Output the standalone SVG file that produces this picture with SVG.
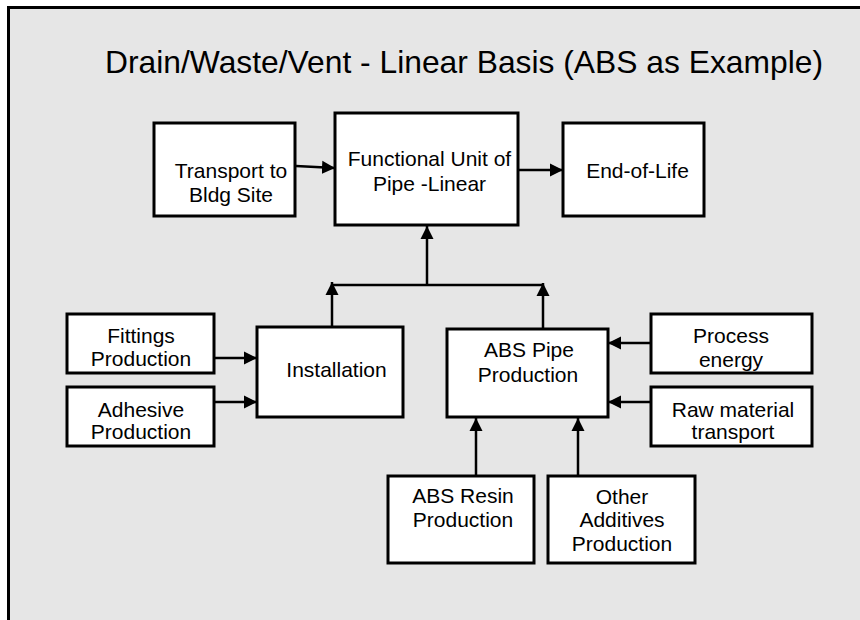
<svg xmlns="http://www.w3.org/2000/svg" width="860" height="620" viewBox="0 0 860 620">
<defs>
<style>
.box{fill:#fff;stroke:#000;stroke-width:3}
.lbl{font-family:"Liberation Sans",Arial,sans-serif;font-size:21px;fill:#000;text-anchor:middle}
.ttl{font-family:"Liberation Sans",Arial,sans-serif;font-size:32px;fill:#000}
.con{fill:none;stroke:#000;stroke-width:2.5}
</style>
<marker id="arr" markerUnits="userSpaceOnUse" markerWidth="14" markerHeight="14" refX="13" refY="7" orient="auto">
<path d="M0,0.5 L13,7 L0,13.5 z" fill="#000"/>
</marker>
</defs>
<rect x="0" y="0" width="860" height="620" fill="#fff"/>
<rect x="8.5" y="7.5" width="880" height="640" fill="#e6e6e6" stroke="#000" stroke-width="3"/>
<text class="ttl" x="105" y="73" textLength="718" lengthAdjust="spacingAndGlyphs">Drain/Waste/Vent - Linear Basis (ABS as Example)</text>

<g id="connectors">
<line class="con" x1="296" y1="166" x2="335" y2="168" marker-end="url(#arr)"/>
<line class="con" x1="518" y1="170" x2="563" y2="170" marker-end="url(#arr)"/>
<line class="con" x1="332" y1="285" x2="543" y2="285"/>
<line class="con" x1="427" y1="285" x2="427" y2="226" marker-end="url(#arr)"/>
<line class="con" x1="332" y1="327" x2="332" y2="282" marker-end="url(#arr)"/>
<line class="con" x1="543" y1="329" x2="543" y2="283" marker-end="url(#arr)"/>
<line class="con" x1="214" y1="358" x2="257" y2="358" marker-end="url(#arr)"/>
<line class="con" x1="214" y1="402" x2="257" y2="402" marker-end="url(#arr)"/>
<line class="con" x1="651" y1="343" x2="608" y2="343" marker-end="url(#arr)"/>
<line class="con" x1="651" y1="402" x2="608" y2="402" marker-end="url(#arr)"/>
<line class="con" x1="476" y1="476" x2="476" y2="418" marker-end="url(#arr)"/>
<line class="con" x1="578" y1="476" x2="578" y2="418" marker-end="url(#arr)"/>
</g>

<g id="transport">
<rect class="box" x="154" y="123" width="141" height="93"/>
<text class="lbl" x="231" y="178">Transport to</text>
<text class="lbl" x="231" y="202">Bldg Site</text>
</g>
<g id="functional-unit">
<rect class="box" x="335" y="113" width="183" height="112"/>
<text class="lbl" x="429.5" y="166">Functional Unit of</text>
<text class="lbl" x="429.5" y="191">Pipe -Linear</text>
</g>
<g id="end-of-life">
<rect class="box" x="563" y="123" width="141" height="93"/>
<text class="lbl" x="637.5" y="178">End-of-Life</text>
</g>
<g id="fittings">
<rect class="box" x="67" y="314" width="147" height="59"/>
<text class="lbl" x="141" y="343">Fittings</text>
<text class="lbl" x="141" y="366">Production</text>
</g>
<g id="adhesive">
<rect class="box" x="67" y="387" width="147" height="59"/>
<text class="lbl" x="141" y="417">Adhesive</text>
<text class="lbl" x="141" y="439">Production</text>
</g>
<g id="installation">
<rect class="box" x="257" y="327" width="146" height="90"/>
<text class="lbl" x="336.5" y="377">Installation</text>
</g>
<g id="abs-pipe">
<rect class="box" x="447" y="329" width="161" height="88"/>
<text class="lbl" x="529" y="357">ABS Pipe</text>
<text class="lbl" x="528" y="382">Production</text>
</g>
<g id="process-energy">
<rect class="box" x="651" y="314" width="161" height="59"/>
<text class="lbl" x="731" y="343">Process</text>
<text class="lbl" x="731" y="367">energy</text>
</g>
<g id="raw-material">
<rect class="box" x="651" y="387" width="161" height="59"/>
<text class="lbl" x="733" y="417">Raw material</text>
<text class="lbl" x="733" y="439">transport</text>
</g>
<g id="abs-resin">
<rect class="box" x="388" y="476" width="146" height="87"/>
<text class="lbl" x="463" y="503">ABS Resin</text>
<text class="lbl" x="463" y="527">Production</text>
</g>
<g id="other-additives">
<rect class="box" x="548" y="476" width="147" height="87"/>
<text class="lbl" x="622" y="504">Other</text>
<text class="lbl" x="622" y="527">Additives</text>
<text class="lbl" x="622" y="551">Production</text>
</g>
</svg>
